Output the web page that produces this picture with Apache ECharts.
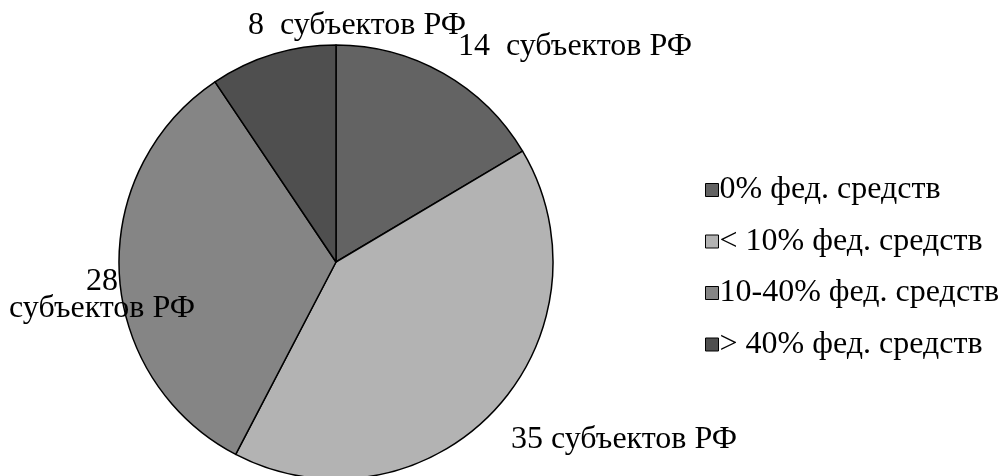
<!DOCTYPE html>
<html>
<head>
<meta charset="utf-8">
<script src="https://cdn.jsdelivr.net/npm/echarts@6/dist/echarts.min.js"></script>
<style>
  html, body { margin: 0; padding: 0; background: #fff; }
  #chart { width: 1003px; height: 476px; }
</style>
</head>
<body>
<div id="chart"></div>
<script>
// данные диаграммы
var categories = ["0% фед. средств", "< 10% фед. средств", "10-40% фед. средств", "> 40% фед. средств"];
var values = [14, 35, 28, 8];
var sliceLabels = ["14  субъектов РФ", "35 субъектов РФ", "28\nсубъектов РФ", "8  субъектов РФ"];
var colors = ["#636363", "#b3b3b3", "#858585", "#4f4f4f"];

// где стоят подписи (как на исходной картинке)
var labelPos = [
  { x: 458, y: 47, align: "left" },
  { x: 511, y: 440, align: "left" },
  { x: 102, y: 295, align: "center" },
  { x: 248, y: 26, align: "left" }
];

var chart = echarts.init(document.getElementById("chart"));

var option = {
  animation: false,
  color: colors,
  textStyle: { fontFamily: "Liberation Serif", color: "#000" },
  legend: {
    orient: "vertical",
    left: 700,
    top: 169,
    itemWidth: 13,
    itemHeight: 13,
    itemGap: 19.5,
    icon: "rect",
    data: categories,
    itemStyle: { borderColor: "#000", borderWidth: 1 },
    textStyle: { fontFamily: "Liberation Serif", fontSize: 32, color: "#000", padding: [0, 0, 0, -4] }
  },
  series: [{
    type: "pie",
    center: [336, 262],
    radius: 217,
    startAngle: 90,
    clockwise: true,
    silent: true,
    itemStyle: { borderColor: "#000", borderWidth: 1.5 },
    label: {
      show: true,
      position: "outside",
      fontFamily: "Liberation Serif",
      fontSize: 32,
      color: "#000",
      lineHeight: 27,
      overflow: "none",
      formatter: function (p) { return sliceLabels[p.dataIndex]; }
    },
    labelLine: { show: false },
    labelLayout: function (p) {
      var l = labelPos[p.dataIndex];
      return { x: l.x, y: l.y, align: l.align, verticalAlign: "middle", moveOverlap: false, hideOverlap: false };
    },
    data: categories.map(function (c, i) {
      return { name: c, value: values[i] };
    })
  }]
};

chart.setOption(option);
</script>
</body>
</html>
